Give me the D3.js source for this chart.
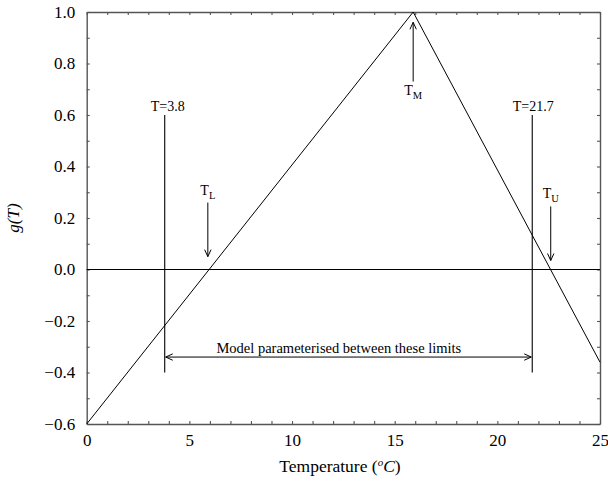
<!DOCTYPE html>
<html>
<head>
<meta charset="utf-8">
<script src="https://cdn.jsdelivr.net/npm/d3@7"></script>
<style>
  html, body { margin: 0; padding: 0; background: #fff; }
  svg { display: block; font-family: "Liberation Serif", "Times New Roman", serif; }
</style>
</head>
<body>
<svg id="chart" width="608" height="481"></svg>
<script>
// Growth response g(T): piecewise-linear triangle between T_L, T_M and T_U
const temps = [0, 15.9, 25];
const gValues = [-0.6, 1.0, -0.36];

// Axis ticks
const xMajorTicks = [0, 5, 10, 15, 20, 25];
const xMinorTicks = d3.range(0, 26, 1);
const yTicks = [-0.6, -0.4, -0.2, 0.0, 0.2, 0.4, 0.6, 0.8, 1.0];
const yMinorTicks = d3.range(-6, 11, 1).map(d => d / 10);

// Parameterisation limits and cardinal temperatures
const limits = [3.8, 21.7];
const limitLabels = ["T=3.8", "T=21.7"];
const limitSpan = [-0.4, 0.6];
const spanArrowY = -0.34;
const spanLabel = "Model parameterised between these limits";
const cardinal = [
  { name: "L", x: 5.9,  from: 0.26,  to: 0.05 },
  { name: "U", x: 22.6, from: 0.245, to: 0.035 },
  { name: "M", x: 15.9, from: 0.73,  to: 0.96 }
];

const svg = d3.select("#chart");
const plotLeft = 86.7, plotRight = 600, plotTop = 12, plotBottom = 424;

const x = d3.scaleLinear().domain([0, 25]).range([plotLeft, plotRight]);
const y = d3.scaleLinear().domain([-0.6, 1.0]).range([plotBottom, plotTop]);

const frameColor = "#555";
const fmt = d3.format(".1f");

// Arrowhead marker (open chevron)
svg.append("defs").append("marker")
  .attr("id", "head")
  .attr("viewBox", "-8 -4 10 8")
  .attr("refX", 0).attr("refY", 0)
  .attr("markerWidth", 10).attr("markerHeight", 8)
  .attr("markerUnits", "userSpaceOnUse")
  .attr("orient", "auto-start-reverse")
  .append("path")
  .attr("d", "M-7,-3.2 L0,0 L-7,3.2")
  .attr("fill", "none")
  .attr("stroke", "#000")
  .attr("stroke-width", 1);

// Axes with inward ticks
function styleAxis(g) {
  g.attr("font-family", null);
  g.selectAll(".domain").attr("stroke", frameColor).attr("stroke-width", 1.4);
  g.selectAll(".tick line").attr("stroke", frameColor).attr("stroke-width", 1.1);
  g.selectAll(".tick text").attr("fill", "#000")
    .style("font-family", "'Liberation Serif', 'Times New Roman', serif")
    .style("font-size", "17px");
}

svg.append("g")
  .attr("transform", `translate(0,${plotBottom})`)
  .call(d3.axisBottom(x).tickValues(xMinorTicks).tickSizeInner(-3).tickSizeOuter(0).tickPadding(10)
    .tickFormat(d => xMajorTicks.includes(d) ? String(d) : ""))
  .call(styleAxis);

svg.append("g")
  .attr("transform", `translate(0,${plotTop})`)
  .call(d3.axisTop(x).tickValues(xMinorTicks).tickSizeInner(-3).tickSizeOuter(0).tickFormat(""))
  .call(styleAxis);

svg.append("g")
  .attr("transform", `translate(${plotLeft},0)`)
  .call(d3.axisLeft(y).tickValues(yMinorTicks).tickSizeInner(-3).tickSizeOuter(0).tickPadding(11.5)
    .tickFormat(d => yTicks.some(t => Math.abs(t - d) < 1e-9) ? fmt(d) : ""))
  .call(styleAxis);

svg.append("g")
  .attr("transform", `translate(${plotRight},0)`)
  .call(d3.axisRight(y).tickValues(yMinorTicks).tickSizeInner(-3).tickSizeOuter(0).tickFormat(""))
  .call(styleAxis);

// Zero line
svg.append("line")
  .attr("x1", x(0)).attr("x2", x(25))
  .attr("y1", y(0)).attr("y2", y(0))
  .attr("stroke", "#000").attr("stroke-width", 1);

// g(T) curve
const pts = temps.map((t, i) => [t, gValues[i]]);
svg.append("path")
  .datum(pts)
  .attr("fill", "none")
  .attr("stroke", "#000")
  .attr("stroke-width", 1)
  .attr("d", d3.line().x(d => x(d[0])).y(d => y(d[1])));

// Limit lines and labels
limits.forEach((t, i) => {
  svg.append("line")
    .attr("x1", x(t)).attr("x2", x(t))
    .attr("y1", y(limitSpan[0])).attr("y2", y(limitSpan[1]))
    .attr("stroke", "#000").attr("stroke-width", 1.1);
  svg.append("text")
    .attr("x", x(t) + (i === 0 ? 3 : 1)).attr("y", y(limitSpan[1]) - 4)
    .attr("text-anchor", "middle")
    .style("font-size", "14px")
    .text(limitLabels[i]);
});

// Double-headed span arrow
svg.append("line")
  .attr("x1", x(limits[0]) + 1).attr("x2", x(limits[1]) - 1)
  .attr("y1", y(spanArrowY)).attr("y2", y(spanArrowY))
  .attr("stroke", "#000").attr("stroke-width", 1)
  .attr("marker-start", "url(#head)")
  .attr("marker-end", "url(#head)");

svg.append("text")
  .attr("x", x(12.28)).attr("y", y(spanArrowY) - 4.5)
  .attr("text-anchor", "middle")
  .style("font-size", "14.5px")
  .text(spanLabel);

// Cardinal temperature arrows and labels
cardinal.forEach(c => {
  svg.append("line")
    .attr("x1", x(c.x)).attr("x2", x(c.x))
    .attr("y1", y(c.from)).attr("y2", y(c.to))
    .attr("stroke", "#000").attr("stroke-width", 1)
    .attr("marker-end", "url(#head)");
  const labelY = c.to > c.from ? y(c.from) + 13 : y(c.from) - 8;
  const t = svg.append("text")
    .attr("x", x(c.x)).attr("y", labelY)
    .attr("text-anchor", "middle")
    .style("font-size", "14px");
  t.append("tspan").text("T");
  t.append("tspan").attr("dy", 4).style("font-size", "10.5px").text(c.name);
});

// Axis titles
const xt = svg.append("text")
  .attr("x", 340).attr("y", 471.5)
  .attr("text-anchor", "middle")
  .style("font-size", "17.5px");
xt.append("tspan").text("Temperature (");
xt.append("tspan").attr("dy", -6).style("font-size", "11px").style("font-style", "italic").text("o");
xt.append("tspan").attr("dy", 6).style("font-style", "italic").text("C");
xt.append("tspan").text(")");

svg.append("text")
  .attr("transform", `translate(19,${(plotTop + plotBottom) / 2}) rotate(-90)`)
  .attr("text-anchor", "middle")
  .style("font-size", "17px")
  .style("font-style", "italic")
  .text("g(T)");
</script>
</body>
</html>
